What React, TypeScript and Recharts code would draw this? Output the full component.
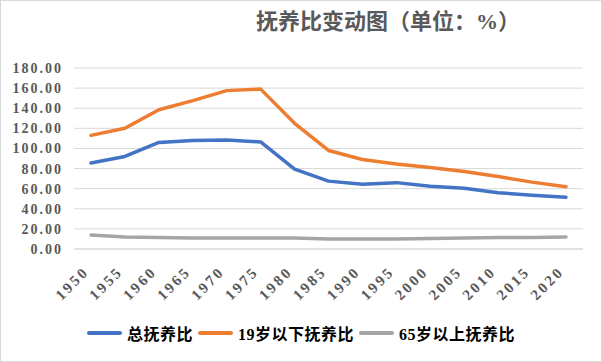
import { LineChart, Line, XAxis, YAxis, CartesianGrid, Legend } from 'recharts';

const years = ['1950', '1955', '1960', '1965', '1970', '1975', '1980', '1985', '1990', '1995', '2000', '2005', '2010', '2015', '2020'];
const totalRatio = [85.5, 92, 106, 108, 108.5, 106.5, 79.5, 67.5, 64.5, 66, 62.5, 60.5, 56, 53.5, 51.5];
const youngRatio = [113, 120, 138.5, 147.5, 157.5, 159, 125, 98, 89, 84.5, 81, 77, 72, 66.5, 62];
const oldRatio = [14, 12, 11.5, 11, 11, 11, 11, 10, 10, 10, 10.5, 11, 11.5, 11.5, 12];
const yTicks = [0, 20, 40, 60, 80, 100, 120, 140, 160, 180];

const series = [
  { key: 'total', name: '总抚养比', color: '#4472C4' },
  { key: 'young', name: '19岁以下抚养比', color: '#ED7D31' },
  { key: 'old', name: '65岁以上抚养比', color: '#A5A5A5' },
];

const data = years.map((year, i) => ({
  year,
  total: totalRatio[i],
  young: youngRatio[i],
  old: oldRatio[i],
}));

const FONT = "'Liberation Serif', 'Noto Sans CJK SC', serif";

function YearTick({ x, y, payload }: any) {
  const ax = x - 5;
  const ay = y + 12;
  return (
    <text
      x={ax}
      y={ay}
      dy="0.35em"
      transform={`rotate(-45, ${ax}, ${ay})`}
      textAnchor="end"
      fill="#595959"
      fontSize={15}
      fontWeight="bold"
      letterSpacing={2.5}
      fontFamily={FONT}
    >
      {payload.value}
    </text>
  );
}

function LegendContent() {
  return (
    <div style={{ display: 'flex', justifyContent: 'center', alignItems: 'center', height: 22 }}>
      {series.map((s, i) => (
        <div key={s.key} style={{ display: 'flex', alignItems: 'center', marginRight: i < series.length - 1 ? 5 : 0 }}>
          <span style={{ display: 'inline-block', width: 35, height: 4, borderRadius: 2, background: s.color, marginRight: 5 }} />
          <span style={{ fontSize: 16, fontWeight: 'bold', color: '#000', fontFamily: FONT, letterSpacing: 0.5 }}>{s.name}</span>
        </div>
      ))}
    </div>
  );
}

export default function App() {
  return (
    <div style={{ position: 'fixed', top: 0, left: 0, width: 602, height: 362, background: '#fff' }}>
      <div
        style={{
          position: 'absolute',
          top: 8,
          left: 0,
          width: 602,
          paddingLeft: 174,
          boxSizing: 'border-box',
          textAlign: 'center',
          fontFamily: FONT,
          fontSize: 22,
          fontWeight: 'bold',
          color: '#595959',
          lineHeight: '28px',
        }}
      >
        抚养比变动图（单位：%）
      </div>
      <LineChart width={602} height={362} data={data} margin={{ top: 68, right: 19, bottom: 53, left: 0 }}>
        <CartesianGrid vertical={false} stroke="#d9d9d9" strokeWidth={1} />
        <XAxis
          dataKey="year"
          axisLine={{ stroke: '#d9d9d9' }}
          tickLine={false}
          height={60}
          interval={0}
          padding={{ left: 17, right: 17 }}
          tick={<YearTick />}
        />
        <YAxis
          domain={[0, 180]}
          ticks={yTicks}
          interval={0}
          width={74}
          axisLine={false}
          tickLine={false}
          tickMargin={5}
          tickFormatter={(v: number) => v.toFixed(2)}
          tick={{ fill: '#595959', fontSize: 14, fontWeight: 'bold', fontFamily: FONT, letterSpacing: 2 }}
        />
        <Legend
          layout="horizontal"
          verticalAlign="middle"
          align="center"
          wrapperStyle={{ position: 'absolute', top: 322, left: 0, width: 602 }}
          content={<LegendContent />}
        />
        {series.map((s) => (
          <Line
            key={s.key}
            type="linear"
            dataKey={s.key}
            name={s.name}
            stroke={s.color}
            strokeWidth={3.5}
            strokeLinecap="round"
            strokeLinejoin="round"
            dot={false}
            activeDot={false}
            isAnimationActive={false}
          />
        ))}
      </LineChart>
      <div
        style={{
          position: 'absolute',
          top: 0,
          left: 0,
          width: 602,
          height: 362,
          border: '1px solid #d9d9d9',
          boxSizing: 'border-box',
          pointerEvents: 'none',
        }}
      />
    </div>
  );
}
